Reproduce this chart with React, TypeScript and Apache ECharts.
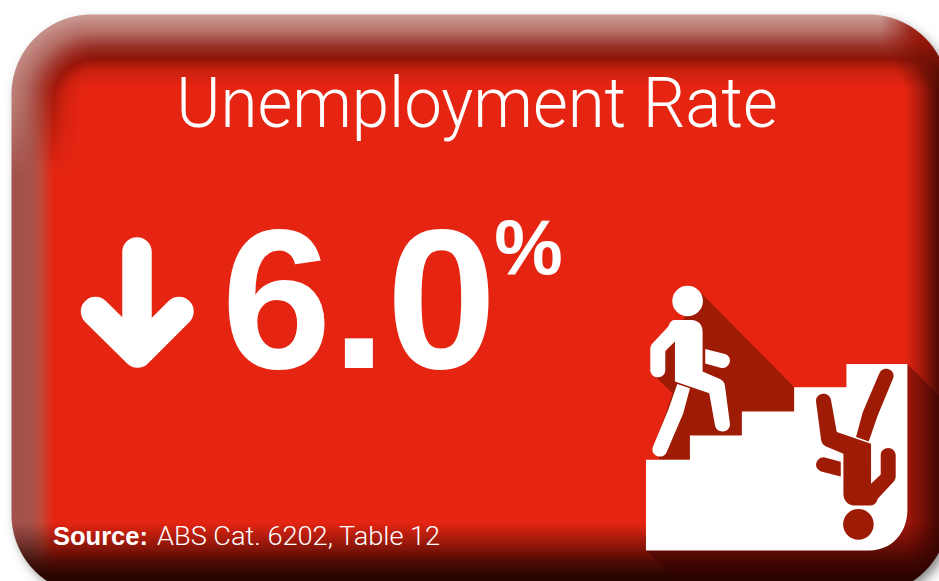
import React, { useEffect, useRef } from "react";
import * as echarts from "echarts";

const titleText = ["Unemployment Rate"];
const valueText = ["6.0"];
const unitText = ["%"];
const sourceBold = ["Source:"];
const sourceRest = ["ABS Cat. 6202, Table 12"];

const WALKER =
  "M165 150H215C235 150 248 165 248 185V305L300 327C309 331 314 338 315 347L330 460C332 474 322 484 310 485C297 486 287 478 285 465L268 370L165 335V215L136 243V300C136 313 126 322 113 322C101 322 91 312 91 300V238C91 231 93 225 98 220L145 170C150 155 157 150 165 150Z" +
  "M256 237L315 252C325 255 331 264 330 274C328 287 316 297 304 294L256 281Z" +
  "M172 342L210 355L190 430L140 547C135 558 124 563 112 559C100 555 94 543 99 531L145 420Z" +
  "M157 93A46 46 0 1 0 249 93A46 46 0 1 0 157 93Z";
const STAIRS = "M78 570H210V497H366V425H523V352H680V282H863V720C863 790 815 842 750 842H78Z";
const WALK_SHADOW = "M240 65L523 352V425H366V497H210V570H120L100 540L158 370L105 320L160 200Z";
const LONG_SHADOW = "M863 282L984 403V732A240 240 0 0 1 744 972H208L78 842Z";

const reg = (name: string, d: string) => echarts.graphic.registerShape(name, echarts.graphic.extendPath(d as any, {}) as any);
reg("walker", WALKER);
reg("stairs", STAIRS);
reg("walkShadow", WALK_SHADOW);
reg("longShadow", LONG_SHADOW);

const card = { x: 11, y: 14, width: 937, height: 580, r: 80 };
const DARK = "#9e1b06";
const ICON = { x: 620, y: 270, scaleX: 1 / 3, scaleY: 1 / 3 };

type Stop = [number, number, number, number];
const TOP: Stop[] = [[0, 203, 156, 149], [16, 184, 115, 107], [32, 154, 50, 41], [44, 142, 20, 8], [56, 200, 33, 14], [71, 229, 37, 18]];
const LEFT: Stop[] = [[0, 162, 82, 75], [19, 165, 82, 75], [29, 192, 74, 58], [42, 229, 37, 18], [84, 229, 37, 18]];
const lerpStops = (s: Stop[], t: number): [number, number, number] => {
  if (t <= s[0][0]) return [s[0][1], s[0][2], s[0][3]];
  for (let i = 1; i < s.length; i++) {
    if (t <= s[i][0]) {
      const k = (t - s[i - 1][0]) / (s[i][0] - s[i - 1][0]);
      return [1, 2, 3].map((j) => s[i - 1][j] + (s[i][j] - s[i - 1][j]) * k) as any;
    }
  }
  const l = s[s.length - 1];
  return [l[1], l[2], l[3]];
};
const ramp = (pts: [number, number][], t: number) => {
  if (t <= pts[0][0]) return pts[0][1];
  for (let i = 1; i < pts.length; i++) {
    if (t <= pts[i][0]) {
      const k = (t - pts[i - 1][0]) / (pts[i][0] - pts[i - 1][0]);
      return pts[i - 1][1] + (pts[i][1] - pts[i - 1][1]) * k;
    }
  }
  return pts[pts.length - 1][1];
};
const mix = (a: number[], b: number[], k: number) => a.map((v, i) => v + (b[i] - v) * k);

function bevelImage(): HTMLCanvasElement {
  const W = 939, H = 581;
  const cv = document.createElement("canvas");
  cv.width = W; cv.height = H;
  const ctx = cv.getContext("2d")!;
  const img = ctx.createImageData(W, H);
  const cx0 = card.x + card.r, cx1 = card.x + card.width - card.r;
  const cy0 = card.y + card.r, cy1 = card.y + card.height - card.r;
  const CX = 95, CY = 100;
  for (let y = 0; y < H; y++) {
    for (let x = 0; x < W; x++) {
      const dx = Math.max(cx0 - x, 0, x - cx1), dy = Math.max(cy0 - y, 0, y - cy1);
      const sd = Math.hypot(dx, dy) - card.r;
      const cov = Math.min(1, Math.max(0, 0.5 - sd));
      if (cov <= 0) continue;
      let c: number[];
      if (x < CX) {
        let r: number, s: number;
        if (y < CY) {
          r = Math.hypot(CX - x, CY - y);
          const th = Math.atan2(CY - y, CX - x) / (Math.PI / 2);
          s = 0.65 + 0.35 * th;
        } else {
          r = CX - x;
          s = 0.65 * Math.max(0, 1 - (y - CY) / 75);
        }
        c = mix(lerpStops(LEFT, 84 - r), lerpStops(TOP, 86 - r), s);
      } else {
        c = lerpStops(TOP, y - card.y);
      }
      const upper = Math.min(1, Math.max(0, (90 - y) / 50));
      const xs = 905 - 25 * upper;
      const aR = ramp([[0, 0], [15, 0.35], [30, 0.8], [43, 1]], x - xs);
      c = mix(c, mix([58, 8, 1], [150, 22, 8], upper), aR);
      const aB = ramp([[522, 0], [545, 0.45], [560, 0.78], [575, 1]], y);
      c = mix(c, [42, 5, 0], aB);
      const p = (y * W + x) * 4;
      img.data[p] = c[0]; img.data[p + 1] = c[1]; img.data[p + 2] = c[2]; img.data[p + 3] = cov * 255;
    }
  }
  ctx.putImageData(img, 0, 0);
  return cv;
}

export default function App() {
  const ref = useRef<HTMLDivElement>(null);
  useEffect(() => {
    document.body.style.margin = "0";
    const chart = echarts.init(ref.current!, undefined, { renderer: "svg" });
    const bevel = bevelImage().toDataURL("image/png");
    chart.setOption({
      animation: false,
      backgroundColor: "#ffffff",
      graphic: [
        { type: "rect", shape: { ...card, x: card.x + 1, y: card.y + 1, width: card.width - 2, height: card.height - 2 }, style: { fill: "#7a2a20", shadowBlur: 12, shadowColor: "rgba(0,0,0,0.5)", shadowOffsetX: 5, shadowOffsetY: 6 } },
        { type: "image", x: 0, y: 0, style: { image: bevel, x: 0, y: 0, width: 939, height: 581 } },
        { type: "longShadow", ...ICON, style: { fill: "rgba(50,0,0,0.38)" } },
        { type: "walkShadow", ...ICON, style: { fill: DARK } },
        { type: "stairs", ...ICON, style: { fill: "#ffffff" } },
        { type: "walker", ...ICON, style: { fill: "#ffffff" } },
        { type: "walker", x: 620 + 918 / 3, y: 270 + 856 / 3, scaleX: -1 / 3, scaleY: -1 / 3, style: { fill: DARK } },
        { type: "polyline", shape: { points: [[137, 252], [137, 350]] }, style: { fill: "none", stroke: "#fff", lineWidth: 29.5, lineCap: "round", lineJoin: "round" } },
        { type: "polyline", shape: { points: [[95.5, 311.5], [137.5, 353], [179, 311.5]] }, style: { fill: "none", stroke: "#fff", lineWidth: 29.5, lineCap: "round", lineJoin: "round" } },
        { type: "text", x: 477, y: 103, scaleX: 0.947, style: { text: titleText[0], fill: "#fff", font: '300 71px Roboto', textAlign: "center", textVerticalAlign: "middle" } },
        { type: "text", x: 359, y: 299, scaleX: 0.995, style: { text: valueText[0], fill: "#fff", font: 'bold 199px "Liberation Sans"', textAlign: "center", textVerticalAlign: "middle" } },
        { type: "text", x: 528.5, y: 247, style: { text: unitText[0], fill: "#fff", font: 'bold 77px "Liberation Sans"', textAlign: "center", textVerticalAlign: "middle" } },
        { type: "text", x: 53, y: 536, style: { text: sourceBold[0], fill: "#fff", font: 'bold 25.5px "Liberation Sans"', textAlign: "left", textVerticalAlign: "middle" } },
        { type: "text", x: 157, y: 536, scaleX: 1.045, style: { text: sourceRest[0], fill: "#fff", font: '300 26px Roboto', textAlign: "left", textVerticalAlign: "middle" } },
      ],
    });
    return () => chart.dispose();
  }, []);
  return <div ref={ref} style={{ width: 939, height: 581 }} />;
}
